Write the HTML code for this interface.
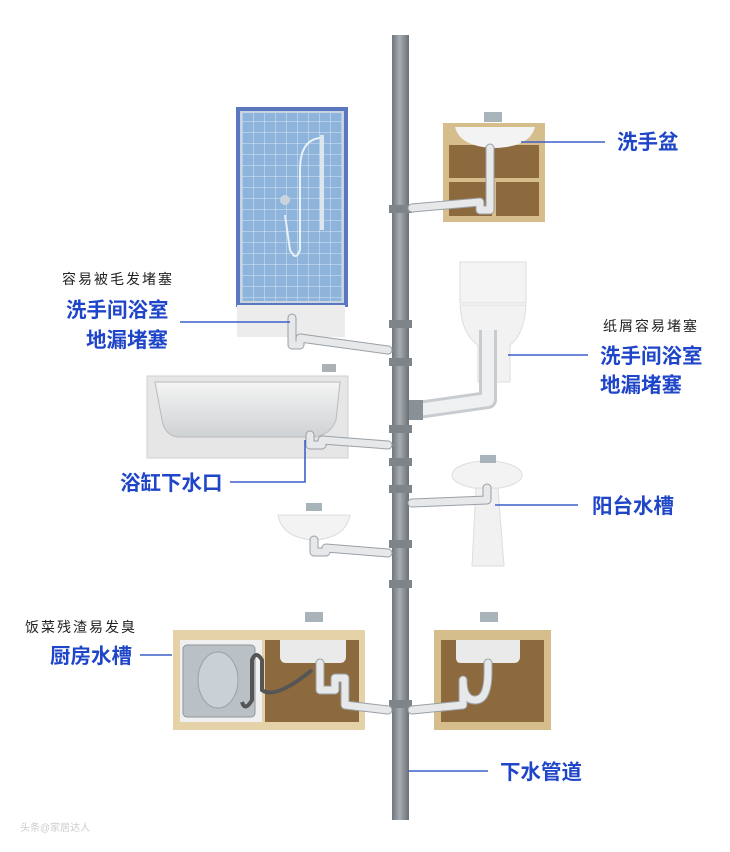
<!DOCTYPE html>
<html><head><meta charset="utf-8"><style>
html,body{margin:0;padding:0;background:#fff;width:730px;height:852px;overflow:hidden}
svg{display:block}
.b{font-family:"Liberation Sans","Noto Sans CJK SC",sans-serif;font-weight:bold;fill:#1f45c8;font-size:20.5px}
.s{font-family:"Liberation Sans","Noto Sans CJK SC",sans-serif;fill:#222;font-size:14px;letter-spacing:2px}
.ln{stroke:#3f5fc8;stroke-width:1.6;fill:none}
.wp{stroke:#e6e8ea;stroke-width:7;fill:none;stroke-linecap:round;stroke-linejoin:round}
.wo{stroke:#9aa0a6;stroke-width:9;fill:none;stroke-linecap:round;stroke-linejoin:round}
</style></head><body>
<svg width="730" height="852" viewBox="0 0 730 852" xmlns="http://www.w3.org/2000/svg">
<defs>
<linearGradient id="pg" x1="0" x2="1"><stop offset="0" stop-color="#6f767c"/><stop offset=".45" stop-color="#a7adb2"/><stop offset="1" stop-color="#6a7075"/></linearGradient>
<linearGradient id="tub" x1="0" y1="0" x2="0" y2="1"><stop offset="0" stop-color="#f4f4f4"/><stop offset="1" stop-color="#cfd2d4"/></linearGradient>
<pattern id="tile" width="11" height="11" patternUnits="userSpaceOnUse"><rect width="11" height="11" fill="#8fb4dc"/><path d="M0 0H11M0 0V11" stroke="#d6e6f5" stroke-width="1"/></pattern>
</defs>
<rect x="392" y="35" width="17" height="785" fill="url(#pg)"/>
<g fill="#7d858b"><rect x="389" y="205" width="23" height="8"/><rect x="389" y="320" width="23" height="8"/><rect x="389" y="358" width="23" height="8"/><rect x="389" y="425" width="23" height="8"/><rect x="389" y="458" width="23" height="8"/><rect x="389" y="485" width="23" height="8"/><rect x="389" y="540" width="23" height="8"/><rect x="389" y="580" width="23" height="8"/><rect x="389" y="700" width="23" height="8"/></g>

<rect x="236" y="107" width="112" height="200" fill="#5b77c0"/>
<rect x="241" y="112" width="102" height="190" fill="url(#tile)" stroke="#c8d4e0" stroke-width="2"/>
<path d="M320 138 Q300 140 300 170 L300 250 Q296 262 290 250 L285 215" stroke="#e8f0f8" stroke-width="2" fill="none"/>
<rect x="320" y="135" width="4" height="95" fill="#dde6ee"/>
<circle cx="285" cy="200" r="5" fill="#c9d3dc"/>
<rect x="237" y="305" width="108" height="32" fill="#ececec"/>
<path class="wo" d="M292 318 V345 H300 V338 L388 350"/><path class="wp" d="M292 318 V345 H300 V338 L388 350"/>

<rect x="147" y="376" width="201" height="82" fill="#e6e6e6" stroke="#d0d0d0"/>
<path d="M155 382 H340 L336 420 Q330 437 310 437 H180 Q165 437 162 420 Z" fill="url(#tub)" stroke="#bbb"/>
<rect x="322" y="364" width="14" height="8" fill="#aab2b8"/>
<path class="wo" d="M310 435 V445 H322 V440 L388 445"/><path class="wp" d="M310 435 V445 H322 V440 L388 445"/>

<rect x="443" y="123" width="102" height="99" fill="#d6bd8c"/>
<rect x="449" y="145" width="90" height="71" fill="#8c6a3e"/>
<rect x="449" y="178" width="90" height="4" fill="#d6bd8c"/>
<rect x="492" y="178" width="4" height="40" fill="#d6bd8c"/>
<path d="M455 127 H535 Q530 147 495 148 Q460 147 455 127Z" fill="#f3f3f3"/>
<rect x="484" y="112" width="18" height="10" fill="#a9b3ba"/>
<path class="wo" d="M490 148 V210 H480 V202 L412 208"/><path class="wp" d="M490 148 V210 H480 V202 L412 208"/>

<rect x="460" y="262" width="66" height="41" fill="#f4f4f4" stroke="#ddd"/>
<path d="M460 305 H526 Q524 335 510 345 V382 H478 V345 Q462 335 460 305Z" fill="#f2f2f2" stroke="#ddd"/>
<path d="M488 330 V400 L418 410" stroke="#c8ccd0" stroke-width="18" fill="none" stroke-linejoin="round"/>
<path d="M488 330 V400 L418 410" stroke="#eef0f1" stroke-width="12" fill="none" stroke-linejoin="round"/>
<rect x="409" y="400" width="14" height="20" fill="#8a9196"/>

<ellipse cx="487" cy="475" rx="35" ry="14" fill="#f3f3f3" stroke="#ddd"/>
<path d="M476 488 H498 L504 566 H472Z" fill="#f1f1f1" stroke="#ddd"/>
<rect x="480" y="455" width="16" height="8" fill="#a9b3ba"/>
<path class="wo" d="M487 488 V500 L412 503"/><path class="wp" d="M487 488 V500 L412 503"/>

<path d="M278 515 H350 Q346 538 314 540 Q282 538 278 515Z" fill="#f3f3f3" stroke="#ddd"/>
<rect x="306" y="503" width="16" height="8" fill="#a9b3ba"/>
<path class="wo" d="M314 540 V552 H326 V548 L388 553"/><path class="wp" d="M314 540 V552 H326 V548 L388 553"/>

<rect x="173" y="630" width="192" height="100" fill="#e6d2a8"/>
<rect x="180" y="640" width="82" height="82" fill="#f0f0f0"/>
<rect x="183" y="645" width="72" height="72" rx="4" fill="#b9c0c6" stroke="#8e969c"/>
<ellipse cx="218" cy="680" rx="20" ry="28" fill="#c9d0d6" stroke="#9aa2a8"/>
<rect x="265" y="640" width="94" height="82" fill="#8c6a3e"/>
<path d="M280 640 H346 V658 Q345 663 340 663 H286 Q281 663 280 658Z" fill="#eaeaea"/>
<rect x="305" y="612" width="18" height="10" fill="#a9b3ba"/>
<path d="M242 702 Q245 712 252 700 V660 Q256 650 262 660 V690 Q275 700 312 670" stroke="#555" stroke-width="4" fill="none"/>
<path class="wo" d="M320 663 V690 H335 V678 H345 V705 L388 710"/><path class="wp" d="M320 663 V690 H335 V678 H345 V705 L388 710"/>

<rect x="434" y="630" width="117" height="100" fill="#d6bd8c"/>
<rect x="441" y="640" width="103" height="82" fill="#8c6a3e"/>
<path d="M456 640 H520 V658 Q519 663 514 663 H461 Q456 663 456 658Z" fill="#eaeaea"/>
<rect x="480" y="612" width="18" height="10" fill="#a9b3ba"/>
<path class="wo" d="M488 663 V672 Q488 700 475 700 Q463 700 463 680 V705 L412 710"/><path class="wp" d="M488 663 V672 Q488 700 475 700 Q463 700 463 680 V705 L412 710"/>

<path class="ln" d="M521 142 H605"/>
<text class="b" x="617" y="149">洗手盆</text>
<text class="s" x="62" y="284">容易被毛发堵塞</text>
<text class="b" x="66" y="317">洗手间浴室</text>
<text class="b" x="86" y="347">地漏堵塞</text>
<path class="ln" d="M180 322 H290"/>
<text class="s" x="603" y="331">纸屑容易堵塞</text>
<text class="b" x="600" y="363">洗手间浴室</text>
<text class="b" x="600" y="392">地漏堵塞</text>
<path class="ln" d="M508 355 H588"/>
<path class="ln" d="M305 440 V482 H230"/>
<text class="b" x="120" y="490">浴缸下水口</text>
<path class="ln" d="M495 505 H578"/>
<text class="b" x="592" y="513">阳台水槽</text>
<text class="s" x="25" y="632">饭菜残渣易发臭</text>
<text class="b" x="50" y="663">厨房水槽</text>
<path class="ln" d="M140 655 H172"/>
<path class="ln" d="M408 771 H488"/>
<text class="b" x="500" y="779">下水管道</text>
<text x="20" y="831" font-family="Liberation Sans,sans-serif" font-size="10" fill="#ccc">头条@家居达人</text>
</svg>
</body></html>
